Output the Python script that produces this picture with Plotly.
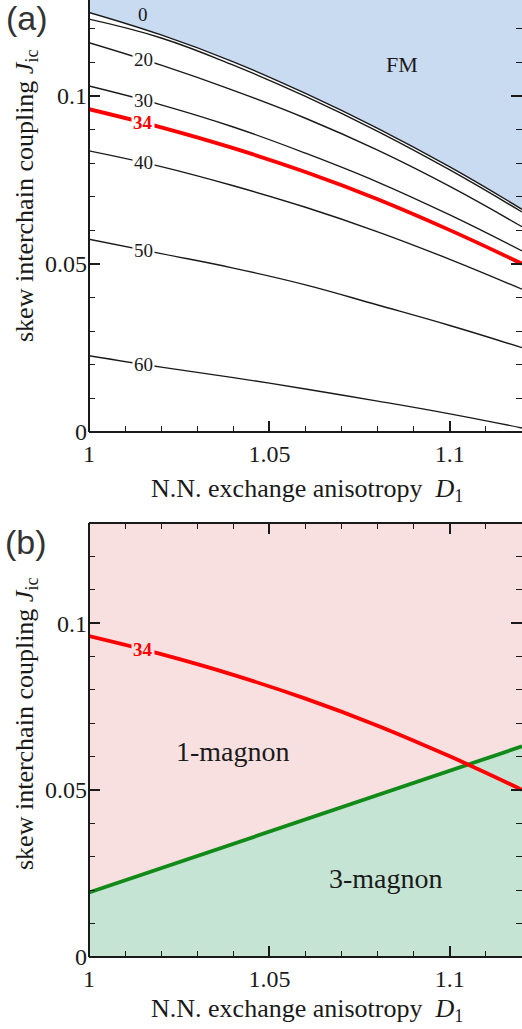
import numpy as np
import plotly.graph_objects as go

# ------------------------------------------------------------------ data
D1 = [1.00, 1.02, 1.04, 1.06, 1.08, 1.10, 1.12]
FM_BOUNDARY = [0.1249, 0.1182, 0.1102, 0.1008, 0.0904, 0.0789, 0.0663]
JIC_0 = [0.1229, 0.1173, 0.1092, 0.0999, 0.0895, 0.0780, 0.0655]
JIC_20 = [0.1159, 0.1092, 0.1017, 0.0934, 0.0839, 0.0731, 0.0611]
JIC_30 = [0.1030, 0.0974, 0.0908, 0.0830, 0.0744, 0.0646, 0.0539]
JIC_34 = [0.0961, 0.0907, 0.0845, 0.0774, 0.0693, 0.0601, 0.0501]
JIC_40 = [0.0837, 0.0790, 0.0733, 0.0669, 0.0596, 0.0514, 0.0425]
JIC_50 = [0.0574, 0.0531, 0.0488, 0.0438, 0.0378, 0.0317, 0.0251]
JIC_60 = [0.0227, 0.0193, 0.0162, 0.0128, 0.0092, 0.0054, 0.0012]
CONTOUR_LABELS = ["20", "30", "34", "40", "50", "60"]
CONTOURS = [JIC_20, JIC_30, JIC_34, JIC_40, JIC_50, JIC_60]

MAGNON_D1 = [1.00, 1.12]
MAGNON_BOUNDARY = [0.0193, 0.0631]

X_TICKS = [1.0, 1.05, 1.1]
Y_TICKS = [0.0, 0.05, 0.1]

# ------------------------------------------------------------------ style
SERIF = "Liberation Serif"
SANS = "Liberation Sans"
INK = "#1a1a1a"
RED = "#ff0000"
GREEN = "#118a18"
BLUE_FILL = "#c9dbf1"
PINK_FILL = "#f8e0e1"
GREEN_FILL = "#c6e4d4"
Y_TOP = 0.13
LABEL_D1 = 1.015
SMOOTH = 1.2

W, H = 522, 1029
ML, MR, MT, MB = 89, 0, 0, 72
PW, PH = W - ML - MR, H - MT - MB


def px_x(px):
    return (px - ML) / PW


def px_y(py):
    return (MT + PH - py) / PH


fig = go.Figure()

# ---------------- panel (a)
fig.add_trace(go.Scatter(x=D1, y=[Y_TOP] * len(D1), mode="lines",
                         line=dict(width=0, color=BLUE_FILL), hoverinfo="skip",
                         showlegend=False, xaxis="x", yaxis="y"))
fig.add_trace(go.Scatter(x=D1, y=FM_BOUNDARY, mode="lines", fill="tonexty",
                         fillcolor=BLUE_FILL,
                         line=dict(color=INK, width=1.4, shape="spline",
                                   smoothing=SMOOTH),
                         showlegend=False, xaxis="x", yaxis="y"))
fig.add_trace(go.Scatter(x=D1, y=JIC_0, mode="lines",
                         line=dict(color=INK, width=1.4, shape="spline",
                                   smoothing=SMOOTH),
                         showlegend=False, xaxis="x", yaxis="y"))
for lab, ys in zip(CONTOUR_LABELS, CONTOURS):
    red = lab == "34"
    fig.add_trace(go.Scatter(x=D1, y=ys, mode="lines",
                             line=dict(color=RED if red else INK,
                                       width=3.8 if red else 1.4,
                                       shape="spline", smoothing=SMOOTH),
                             showlegend=False, xaxis="x", yaxis="y"))

# ---------------- panel (b)
fig.add_trace(go.Scatter(x=MAGNON_D1, y=[Y_TOP] * len(MAGNON_D1), mode="lines",
                         line=dict(width=0, color=PINK_FILL), hoverinfo="skip",
                         showlegend=False, xaxis="x2", yaxis="y2"))
fig.add_trace(go.Scatter(x=MAGNON_D1, y=MAGNON_BOUNDARY, mode="lines",
                         fill="tonexty", fillcolor=PINK_FILL,
                         line=dict(width=0, color=PINK_FILL), hoverinfo="skip",
                         showlegend=False, xaxis="x2", yaxis="y2"))
fig.add_trace(go.Scatter(x=MAGNON_D1, y=MAGNON_BOUNDARY, mode="lines",
                         fill="tozeroy", fillcolor=GREEN_FILL,
                         line=dict(color=GREEN, width=3.8),
                         showlegend=False, xaxis="x2", yaxis="y2"))
fig.add_trace(go.Scatter(x=D1, y=JIC_34, mode="lines",
                         line=dict(color=RED, width=3.8, shape="spline",
                                   smoothing=SMOOTH),
                         showlegend=False, xaxis="x2", yaxis="y2"))

# ---------------- axes
tickfont = dict(family=SERIF, size=24, color=INK)
minor = dict(ticks="inside", ticklen=6, tickwidth=1.3, tickcolor=INK,
             dtick=0.01, showgrid=False)


def xaxis_cfg(anchor, mirror):
    return dict(anchor=anchor, domain=[0, 1], range=[1.0, 1.12],
                tickmode="array", tickvals=X_TICKS,
                ticktext=[f"{v:g}" for v in X_TICKS],
                ticks="inside", ticklen=11, tickwidth=1.5, tickcolor=INK,
                minor=dict(minor, tick0=1.0),
                mirror="ticks" if mirror else False,
                showline=False, showgrid=False, zeroline=False,
                tickfont=tickfont, ticklabelstandoff=5)


def yaxis_cfg(anchor, domain, top):
    return dict(anchor=anchor, domain=domain, range=[0, top],
                tickmode="array", tickvals=Y_TICKS,
                ticktext=[f"{v:g}" for v in Y_TICKS],
                ticks="inside", ticklen=11, tickwidth=1.5, tickcolor=INK,
                minor=dict(minor, tick0=0.0),
                mirror="ticks", showline=False, showgrid=False,
                zeroline=False, tickfont=tickfont, ticklabelstandoff=1)


A_BOTTOM = px_y(432)
B_TOP = px_y(523)

fig.update_layout(
    width=W, height=H,
    margin=dict(l=ML, r=MR, t=MT, b=MB, pad=0),
    paper_bgcolor="white", plot_bgcolor="white",
    xaxis=xaxis_cfg("y", False),
    yaxis=yaxis_cfg("x", [A_BOTTOM, 1.0], 0.1286),
    xaxis2=xaxis_cfg("y2", True),
    yaxis2=yaxis_cfg("x2", [0.0, B_TOP], 0.13),
    showlegend=False,
)

# axis lines (left / bottom, plus top of panel b)
axline = dict(color=INK, width=2)
for xr, yr, top in (("x", "y", False), ("x2", "y2", True)):
    fig.add_shape(type="line", xref=f"{xr} domain", yref=f"{yr} domain",
                  x0=0, x1=0, y0=0, y1=1, line=axline)
    fig.add_shape(type="line", xref=f"{xr} domain", yref=f"{yr} domain",
                  x0=0, x1=1, y0=0, y1=0, line=axline)
    if top:
        fig.add_shape(type="line", xref=f"{xr} domain", yref=f"{yr} domain",
                      x0=0, x1=1, y0=1, y1=1, line=axline)

# ---------------- annotations
ann = []
xtitle = "N.N. exchange anisotropy&nbsp;&nbsp;<i>D</i><sub>1</sub>"
ytitle = "skew interchain coupling <i>J</i><sub>ic</sub>"
for ty, yy in ((490, 196), (1010, 724)):
    ann.append(dict(text=xtitle, xref="paper", yref="paper",
                    x=px_x(307), y=px_y(ty), xanchor="center",
                    yanchor="middle", showarrow=False, borderpad=0,
                    font=dict(family=SERIF, size=26, color=INK)))
    ann.append(dict(text=ytitle, xref="paper", yref="paper",
                    x=px_x(26), y=px_y(yy), xanchor="center",
                    yanchor="middle", textangle=-90, showarrow=False,
                    font=dict(family=SERIF, size=26, color=INK)))
for lab, (cx, cy) in (("(a)", (27, 18)), ("(b)", (26, 542))):
    ann.append(dict(text=lab, xref="paper", yref="paper",
                    x=px_x(cx), y=px_y(cy), xanchor="center",
                    yanchor="middle", showarrow=False, borderpad=0,
                    font=dict(family=SANS, size=34, color="#333333")))

# contour labels on lines (panel a)
for lab, ys in zip(CONTOUR_LABELS, CONTOURS):
    red = lab == "34"
    ann.append(dict(text=f"<b>{lab}</b>" if red else lab,
                    xref="x", yref="y", x=LABEL_D1,
                    y=float(np.interp(LABEL_D1, D1, ys)),
                    xanchor="center", yanchor="middle", showarrow=False,
                    bgcolor="white", borderpad=1,
                    font=dict(family=SERIF, size=19,
                              color=RED if red else INK)))
ann.append(dict(text="0", xref="x", yref="y", x=LABEL_D1,
                y=float(np.interp(LABEL_D1, D1, FM_BOUNDARY)) + 0.0045,
                xanchor="center", yanchor="middle", showarrow=False,
                font=dict(family=SERIF, size=19, color=INK)))
ann.append(dict(text="FM", xref="x", yref="y", x=1.0867, y=0.1095,
                xanchor="center", yanchor="middle", showarrow=False,
                font=dict(family=SERIF, size=22, color=INK)))

# panel (b)
ann.append(dict(text="<b>34</b>", xref="x2", yref="y2", x=LABEL_D1,
                y=float(np.interp(LABEL_D1, D1, JIC_34)),
                xanchor="center", yanchor="middle", showarrow=False,
                bgcolor=PINK_FILL, borderpad=1,
                font=dict(family=SERIF, size=19, color=RED)))
ann.append(dict(text="1-magnon", xref="x2", yref="y2", x=1.040, y=0.0616,
                xanchor="center", yanchor="middle", showarrow=False,
                font=dict(family=SERIF, size=28, color=INK)))
ann.append(dict(text="3-magnon", xref="x2", yref="y2", x=1.0823, y=0.0235,
                xanchor="center", yanchor="middle", showarrow=False,
                font=dict(family=SERIF, size=28, color=INK)))

fig.update_layout(annotations=ann)

fig.write_html("out.html")
